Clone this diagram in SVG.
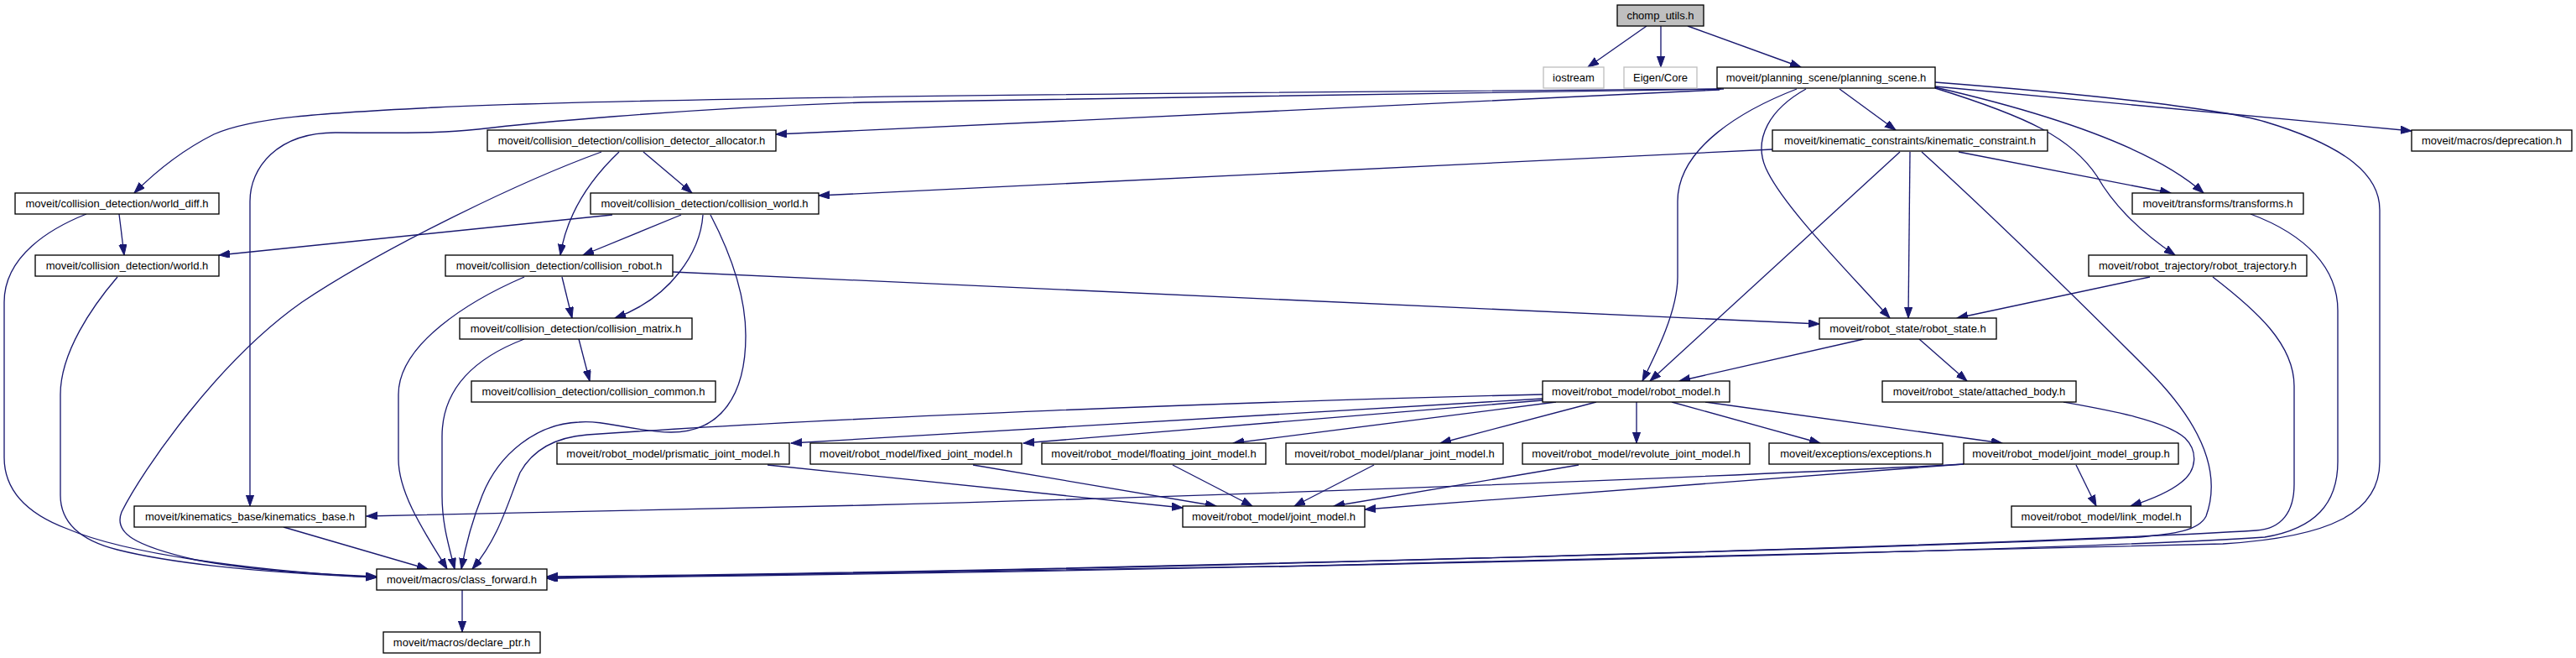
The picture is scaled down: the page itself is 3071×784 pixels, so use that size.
<svg xmlns="http://www.w3.org/2000/svg" width="3071" height="784" viewBox="0 0 3071 784">
<style>
.n rect{fill:#fff;stroke:#000;stroke-width:1.33}
.n text{font-family:"Liberation Sans",Arial,sans-serif;font-size:13px;fill:#000;text-anchor:middle}
.g rect{fill:#fff;stroke:#bfbfbf;stroke-width:1.33}
.root rect{fill:#bfbfbf;stroke:#000;stroke-width:1.33}
.e path{fill:none;stroke:#191970;stroke-width:1.33;marker-end:url(#ah)}
</style>
<defs>
<marker id="ah" markerUnits="userSpaceOnUse" markerWidth="14" markerHeight="10" refX="13" refY="4.6" orient="auto">
<path d="M0,0 L13,4.6 L0,9.2 z" fill="#191970" stroke="#191970" stroke-width="1"/>
</marker>
</defs>
<rect width="3071" height="784" fill="#fff"/>
<g id="edges" class="e">
<path d="M1963,31 L1893,80"/>
<path d="M1980,31 L1980,80"/>
<path d="M2012,31 L2147,80"/>
<path d="M2050,107 C1700,120 1300,145 925,160"/>
<path d="M2052,106 C1500,110 800,115 520,128 C380,135 300,140 255,160 C215,180 185,205 160,230"/>
<path d="M2055,106 C1800,110 1540,115 1030,122 C800,130 620,148 570,154 C540,157 520,159 400,158 C330,158 298,200 298,240 L298,603"/>
<path d="M2193,106 L2260,155"/>
<path d="M2153,106 C2110,130 2090,165 2105,200 C2125,245 2200,320 2253,379"/>
<path d="M2142,106 C2080,130 2000,175 2000,240 L2000,330 C2000,370 1975,420 1958,454"/>
<path d="M2307,104 C2420,130 2560,170 2627,230"/>
<path d="M2307,105 C2420,140 2470,165 2500,210 C2520,245 2550,275 2593,304"/>
<path d="M2307,103 L2875,156"/>
<path d="M2307,98 C2500,113 2650,130 2700,145 C2800,175 2837,210 2837,250 L2837,550 C2837,610 2780,640 2650,648 C2300,660 1200,683 652,689"/>
<path d="M2683,255 C2750,280 2787,320 2787,370 L2787,550 C2787,600 2760,630 2700,640 C2400,660 1200,683 652,689"/>
<path d="M2638,330 C2690,370 2735,410 2735,460 L2735,577 C2735,610 2720,630 2690,632 C2400,650 1200,683 652,688"/>
<path d="M2291,181 C2400,280 2500,380 2560,440 C2620,500 2650,560 2630,615 C2620,635 2580,637 2550,640 C2200,655 1200,682 652,687"/>
<path d="M767,181 L825,230"/>
<path d="M738,181 C697,220 675,260 668,304"/>
<path d="M717,181 C610,220 450,300 360,360 C260,430 170,560 145,610 C135,635 160,650 233,667 C300,680 380,684 449,687"/>
<path d="M730,256 L261,304"/>
<path d="M812,256 L695,304"/>
<path d="M838,256 C835,300 800,355 733,379"/>
<path d="M847,256 C870,300 889,350 889,400 C889,470 860,515 800,515 C760,515 720,500 690,503 C640,505 595,540 575,590 C563,620 555,650 550,678"/>
<path d="M142,255 L148,304"/>
<path d="M103,255 C60,272 5,305 5,360 L5,545 C5,590 40,615 80,630 C150,660 300,680 449,688"/>
<path d="M140,330 C110,365 72,420 72,470 L72,590 C72,625 100,645 140,655 C220,675 350,684 449,688"/>
<path d="M670,330 L682,379"/>
<path d="M802,324 L2169,386"/>
<path d="M625,330 C560,358 475,410 475,470 L475,547 C475,590 510,640 533,678"/>
<path d="M690,404 L703,454"/>
<path d="M625,404 C570,425 527,460 527,520 L527,590 C527,625 535,650 542,678"/>
<path d="M2113,178 L976,233"/>
<path d="M2335,181 L2588,230"/>
<path d="M2277,181 L2275,379"/>
<path d="M2265,181 L1967,454"/>
<path d="M2563,330 L2333,379"/>
<path d="M2222,404 L2002,454"/>
<path d="M2288,404 L2345,454"/>
<path d="M2460,479 C2510,488 2580,500 2605,522 C2620,537 2620,560 2600,575 C2585,587 2565,595 2540,603"/>
<path d="M1839,470 C1500,478 1000,497 700,518 C650,522 630,545 620,563 C605,600 595,640 563,678"/>
<path d="M1839,475 L943,528"/>
<path d="M1839,477 L1220,528"/>
<path d="M1855,479 L1470,528"/>
<path d="M1903,479 L1717,528"/>
<path d="M1951,479 L1951,528"/>
<path d="M1993,479 L2170,528"/>
<path d="M2033,479 L2387,528"/>
<path d="M915,554 L1410,605"/>
<path d="M1160,554 L1450,603"/>
<path d="M1398,554 L1493,603"/>
<path d="M1638,554 L1543,603"/>
<path d="M1882,554 L1590,603"/>
<path d="M2341,553 L1627,607"/>
<path d="M2475,554 L2499,603"/>
<path d="M2341,553 C2100,566 1500,590 1030,602 C800,608 600,612 437,615"/>
<path d="M338,628 L510,678"/>
<path d="M551,703 L551,753"/>
</g>
<g id="chomp_utils" class="root"><rect x="1928" y="6" width="103" height="25"/><text x="1979.5" y="22.8" style="font-family:'Liberation Sans',Arial,sans-serif;font-size:13px;text-anchor:middle">chomp_utils.h</text></g>
<g id="iostream" class="n g"><rect x="1840" y="80" width="72" height="25"/><text x="1876" y="96.8">iostream</text></g>
<g id="eigen_core" class="n g"><rect x="1936" y="80" width="87" height="25"/><text x="1979.5" y="96.8">Eigen/Core</text></g>
<g id="planning_scene" class="n"><rect x="2047" y="80" width="260" height="25"/><text x="2177" y="96.8">moveit/planning_scene/planning_scene.h</text></g>
<g id="collision_detector_allocator" class="n"><rect x="581" y="155" width="344" height="25"/><text x="753" y="171.8">moveit/collision_detection/collision_detector_allocator.h</text></g>
<g id="kinematic_constraint" class="n"><rect x="2113" y="155" width="328" height="25"/><text x="2277" y="171.8">moveit/kinematic_constraints/kinematic_constraint.h</text></g>
<g id="deprecation" class="n"><rect x="2875" y="155" width="191" height="25"/><text x="2970.5" y="171.8">moveit/macros/deprecation.h</text></g>
<g id="world_diff" class="n"><rect x="18" y="230" width="243" height="25"/><text x="139.5" y="246.8">moveit/collision_detection/world_diff.h</text></g>
<g id="collision_world" class="n"><rect x="704" y="230" width="272" height="25"/><text x="840" y="246.8">moveit/collision_detection/collision_world.h</text></g>
<g id="transforms" class="n"><rect x="2542" y="230" width="204" height="25"/><text x="2644" y="246.8">moveit/transforms/transforms.h</text></g>
<g id="world" class="n"><rect x="42" y="304" width="219" height="25"/><text x="151.5" y="320.8">moveit/collision_detection/world.h</text></g>
<g id="collision_robot" class="n"><rect x="531" y="304" width="271" height="25"/><text x="666.5" y="320.8">moveit/collision_detection/collision_robot.h</text></g>
<g id="robot_trajectory" class="n"><rect x="2490" y="304" width="260" height="25"/><text x="2620" y="320.8">moveit/robot_trajectory/robot_trajectory.h</text></g>
<g id="collision_matrix" class="n"><rect x="548" y="379" width="277" height="25"/><text x="686.5" y="395.8">moveit/collision_detection/collision_matrix.h</text></g>
<g id="robot_state" class="n"><rect x="2169" y="379" width="211" height="25"/><text x="2274.5" y="395.8">moveit/robot_state/robot_state.h</text></g>
<g id="collision_common" class="n"><rect x="562" y="454" width="291" height="25"/><text x="707.5" y="470.8">moveit/collision_detection/collision_common.h</text></g>
<g id="robot_model" class="n"><rect x="1839" y="454" width="223" height="25"/><text x="1950.5" y="470.8">moveit/robot_model/robot_model.h</text></g>
<g id="attached_body" class="n"><rect x="2244" y="454" width="231" height="25"/><text x="2359.5" y="470.8">moveit/robot_state/attached_body.h</text></g>
<g id="prismatic_joint_model" class="n"><rect x="664" y="528" width="277" height="25"/><text x="802.5" y="544.8">moveit/robot_model/prismatic_joint_model.h</text></g>
<g id="fixed_joint_model" class="n"><rect x="966" y="528" width="252" height="25"/><text x="1092" y="544.8">moveit/robot_model/fixed_joint_model.h</text></g>
<g id="floating_joint_model" class="n"><rect x="1242" y="528" width="267" height="25"/><text x="1375.5" y="544.8">moveit/robot_model/floating_joint_model.h</text></g>
<g id="planar_joint_model" class="n"><rect x="1533" y="528" width="259" height="25"/><text x="1662.5" y="544.8">moveit/robot_model/planar_joint_model.h</text></g>
<g id="revolute_joint_model" class="n"><rect x="1815" y="528" width="271" height="25"/><text x="1950.5" y="544.8">moveit/robot_model/revolute_joint_model.h</text></g>
<g id="exceptions" class="n"><rect x="2109" y="528" width="207" height="25"/><text x="2212.5" y="544.8">moveit/exceptions/exceptions.h</text></g>
<g id="joint_model_group" class="n"><rect x="2341" y="528" width="256" height="25"/><text x="2469" y="544.8">moveit/robot_model/joint_model_group.h</text></g>
<g id="kinematics_base" class="n"><rect x="160" y="603" width="276" height="25"/><text x="298" y="619.8">moveit/kinematics_base/kinematics_base.h</text></g>
<g id="joint_model" class="n"><rect x="1410" y="603" width="217" height="25"/><text x="1518.5" y="619.8">moveit/robot_model/joint_model.h</text></g>
<g id="link_model" class="n"><rect x="2398" y="603" width="214" height="25"/><text x="2505" y="619.8">moveit/robot_model/link_model.h</text></g>
<g id="class_forward" class="n"><rect x="449" y="678" width="203" height="25"/><text x="550.5" y="694.8">moveit/macros/class_forward.h</text></g>
<g id="declare_ptr" class="n"><rect x="457" y="753" width="187" height="25"/><text x="550.5" y="769.8">moveit/macros/declare_ptr.h</text></g>
</svg>
